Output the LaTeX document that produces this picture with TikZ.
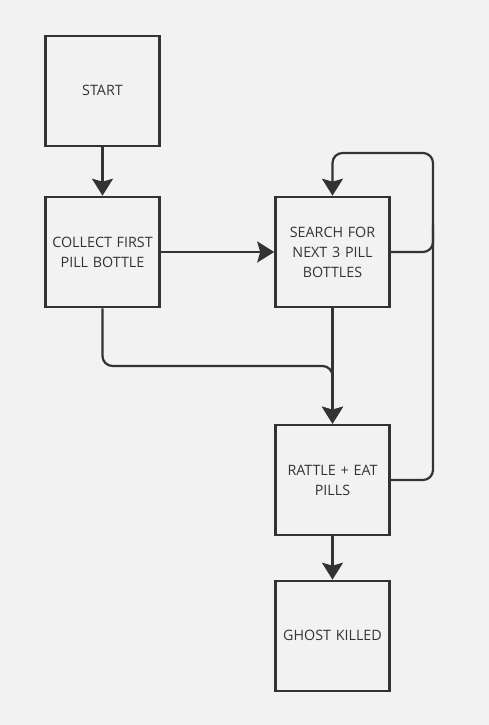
\documentclass[tikz,border=0pt]{standalone}
\usepackage{fontspec}
\setmainfont{Open Sans}
\usetikzlibrary{arrows.meta}
\definecolor{bg}{HTML}{F2F2F2}
\definecolor{ink}{HTML}{333333}
\begin{document}
\begin{tikzpicture}[x=1pt,y=-1pt,
  box/.style={draw=ink, line width=2.6pt, fill=bg, minimum width=111pt, minimum height=110pt,
    inner sep=2pt, text=ink, align=center, font=\fontsize{14.3}{20}\selectfont, text width=110pt},
  conn/.style={draw=ink, line width=2.2pt, -{Stealth[width=21pt,length=17pt,inset=3pt]}},
  wire/.style={draw=ink, line width=2.2pt}]
\fill[bg] (0,0) rectangle (489,725);
\useasboundingbox (0,0) rectangle (489,725);
\node[box] (start) at (102.5,91) {START\strut};
\node[box] (collect) at (102.5,252) {COLLECT FIRST\\PILL BOTTLE};
\node[box] (search) at (332.5,252) {SEARCH FOR\\NEXT 3 PILL\\BOTTLES};
\node[box] (rattle) at (332.5,480) {RATTLE + EAT\\PILLS};
\node[box] (ghost) at (332.5,636) {GHOST KILLED\strut};
\coordinate (looptr) at (433,153);
\coordinate (loophi) at (433,225);
\coordinate (join) at (332.5,366);
\draw[conn] (start) -- (collect);
\draw[conn] (collect) -- (search);
\draw[conn] (search) -- (rattle);
\draw[conn] (rattle) -- (ghost);
\draw[conn, rounded corners=10pt] (collect.south) |- (join) -- (rattle.north);
\draw[conn, rounded corners=10pt] (search.east) -| (looptr) -| (search.north);
\draw[wire, rounded corners=10pt] (rattle.east) -| (loophi);
\end{tikzpicture}
\end{document}
